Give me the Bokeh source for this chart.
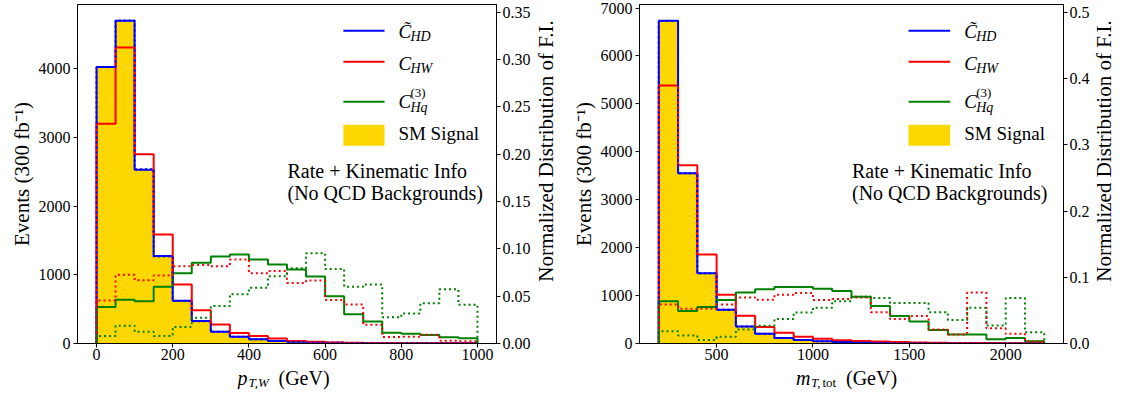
import math
from bokeh.plotting import figure
from bokeh.layouts import row, column
from bokeh.models import (Range1d, LinearAxis, FixedTicker, NumeralTickFormatter,
                          Label, BoxAnnotation)
from bokeh.embed import file_html
from bokeh.resources import INLINE

# ---------------- data ----------------
pt_edges = [0, 50, 100, 150, 200, 250, 300, 350, 400, 450, 500,
            550, 600, 650, 700, 750, 800, 850, 900, 950, 1000]
sm_pt = [4020, 4700, 2528, 1268, 620, 325, 170, 97, 62, 36, 25, 15, 10, 8, 6, 5, 4, 3, 2, 2]
chd_pt = [4025, 4700, 2530, 1272, 622, 328, 172, 98, 62, 37, 25, 16, 11, 8, 6, 5, 4, 3, 2, 2]
chw_pt = [3200, 4310, 2755, 1585, 858, 484, 275, 152, 108, 74, 38, 24, 15, 11, 8, 6, 5, 4, 3, 3]
chq_pt = [530, 638, 615, 826, 1022, 1177, 1266, 1294, 1224, 1149, 1079, 976, 689, 427, 319,
          155, 141, 122, 90, 76]
fi_chd_pt = [0.292, 0.341, 0.184, 0.092, 0.045, 0.0236, 0.0123, 0.007, 0.0045, 0.0026,
             0.0018, 0.0011, 0.0007, 0.0006, 0.0004, 0.0004, 0.0003, 0.0002, 0.0001, 0.0001]
fi_chw_pt = [0.0454, 0.0725, 0.0668, 0.0719, 0.0817, 0.083, 0.0817, 0.0886, 0.0743, 0.0766,
             0.064, 0.0664, 0.046, 0.0412, 0.0198, 0.0068, 0.007, 0.0092, 0.0028, 0.0025]
fi_chq_pt = [0.0079, 0.0188, 0.0123, 0.0079, 0.0174, 0.0273, 0.0395, 0.0521, 0.0589, 0.0709,
             0.0794, 0.0954, 0.0787, 0.06, 0.0623, 0.0276, 0.0317, 0.0426, 0.0572, 0.0409]

mt_edges = [200, 300, 400, 500, 600, 700, 800, 900, 1000, 1100, 1200,
            1300, 1400, 1500, 1600, 1700, 1800, 1900, 2000, 2100, 2200]
sm_mt = [6730, 3550, 1465, 705, 355, 200, 114, 74, 47, 30, 20, 15, 10, 8, 6, 5, 4, 3, 2, 2]
chd_mt = [6735, 3552, 1467, 706, 357, 202, 115, 75, 48, 30, 20, 15, 10, 8, 6, 5, 4, 3, 2, 2]
chw_mt = [5386, 3720, 1856, 1017, 579, 343, 222, 140, 101, 68, 54, 40, 30, 22, 16, 12, 10, 8, 6, 5]
chq_mt = [882, 680, 760, 908, 1063, 1130, 1178, 1178, 1144, 1097, 976, 781, 573, 458, 282,
          190, 190, 89, 115, 48]
fi_chd_mt = [0.487, 0.257, 0.106, 0.051, 0.0258, 0.0146, 0.0083, 0.0054, 0.0035, 0.0022,
             0.0014, 0.0011, 0.0007, 0.0006, 0.0004, 0.0004, 0.0003, 0.0002, 0.0001, 0.0001]
fi_chw_mt = [0.059, 0.0525, 0.0525, 0.059, 0.0696, 0.0662, 0.0735, 0.0764, 0.0657, 0.0671,
             0.0696, 0.0472, 0.037, 0.0414, 0.021, 0.0137, 0.0769, 0.0229, 0.0146, 0.003]
fi_chq_mt = [0.0185, 0.0122, 0.0054, 0.0102, 0.021, 0.0268, 0.037, 0.0467, 0.054, 0.0638,
             0.0706, 0.0686, 0.0613, 0.0613, 0.0472, 0.0356, 0.054, 0.0273, 0.0686, 0.0171]

pt_xticks = [0, 200, 400, 600, 800, 1000]
pt_yticks = [0, 1000, 2000, 3000, 4000]
pt_fiticks = [0.0, 0.05, 0.10, 0.15, 0.20, 0.25, 0.30, 0.35]
mt_xticks = [500, 1000, 1500, 2000]
mt_yticks = [0, 1000, 2000, 3000, 4000, 5000, 6000, 7000]
mt_fiticks = [0.0, 0.1, 0.2, 0.3, 0.4, 0.5]

BLUE, RED, GREEN, GOLD = "#0000FF", "#FF0000", "#008000", "#FFD700"
FONT = "Liberation Serif"
MBT, FH, MBB = 4, 339, 23
H_MAIN = MBT + FH + MBB
H_STRIP = 23


def step_path(edges, vals):
    xs = [edges[0]] + list(edges) + [edges[-1]]
    ys = [0] + list(vals) + [vals[-1], 0]
    return xs, ys


def txt(p, x, y, text, size, style="normal", align="left", angle=0.0):
    p.add_layout(Label(x=x, y=y, x_units="screen", y_units="screen", text=text,
                       text_font=FONT, text_font_size=f"{size}px", text_font_style=style,
                       text_color="black", text_align=align, text_baseline="middle",
                       angle=angle))


def blank(width, height, mbl=0, mbr=0):
    s = figure(width=width, height=height, output_backend="svg",
               toolbar_location=None, x_axis_type=None, y_axis_type=None,
               min_border_left=mbl, min_border_right=mbr, min_border_top=0,
               min_border_bottom=0, x_range=Range1d(0, 1), y_range=Range1d(0, 1))
    s.outline_line_color = None
    s.xgrid.visible = False
    s.ygrid.visible = False
    s.background_fill_color = "white"
    s.border_fill_color = "white"
    return s


def panel(edges, sm, chd, chw, chq, fchd, fchw, fchq, xr, yr, fir, xt, yt, ft, ffmt,
          mbl, fw, mbr):
    p = figure(width=mbl + fw + mbr, height=H_MAIN, x_range=Range1d(*xr),
               y_range=Range1d(*yr), output_backend="svg", toolbar_location=None,
               min_border_left=mbl, min_border_right=mbr,
               min_border_top=MBT, min_border_bottom=MBB)
    p.extra_y_ranges = {"fi": Range1d(*fir)}
    p.xgrid.visible = False
    p.ygrid.visible = False
    p.outline_line_color = "black"
    p.outline_line_alpha = 1.0
    p.outline_line_width = 1
    p.background_fill_color = "white"
    p.border_fill_color = "white"

    fi_axis = LinearAxis(y_range_name="fi")
    p.add_layout(fi_axis, "right")

    for ax in [p.xaxis[0], p.yaxis[0], fi_axis]:
        ax.axis_line_color = "black"
        ax.major_tick_line_color = "black"
        ax.major_tick_out = 4
        ax.major_tick_in = 0
        ax.minor_tick_line_color = None
        ax.major_label_text_font = FONT
        ax.major_label_text_font_size = "16px"
        ax.major_label_text_color = "black"
        ax.axis_label_text_font = FONT
        ax.axis_label_text_font_size = "21px"
        ax.axis_label_text_font_style = "normal"
        ax.axis_label_text_color = "black"
        ax.major_label_standoff = 3
        ax.axis_label_standoff = 2

    p.xaxis[0].ticker = FixedTicker(ticks=xt)
    p.xaxis[0].major_label_standoff = 1
    p.yaxis[0].ticker = FixedTicker(ticks=yt)
    p.yaxis[0].axis_label = "Events (300 fb⁻¹)"
    fi_axis.ticker = FixedTicker(ticks=ft)
    fi_axis.formatter = NumeralTickFormatter(format=ffmt)
    fi_axis.major_label_standoff = 2

    # SM signal fill
    p.varea_step(x=edges, y1=[0] * len(edges), y2=list(sm) + [sm[-1]], step_mode="after",
                 fill_color=GOLD, fill_alpha=1.0)
    # event histograms (solid)
    for vals, col in [(chd, BLUE), (chw, RED), (chq, GREEN)]:
        xs, ys = step_path(edges, vals)
        p.step(xs, ys, mode="after", line_color=col, line_width=2)
    # normalized F.I. (dotted, twin axis)
    for vals, col in [(fchd, BLUE), (fchw, RED), (fchq, GREEN)]:
        xs, ys = step_path(edges, vals)
        p.step(xs, ys, mode="after", line_color=col, line_width=2, line_dash="2 3",
               y_range_name="fi")

    # legend (custom, for math-style labels); offsets measured from the frame top
    lx0, lx1, tx = 0.633 * fw, 0.731 * fw, 0.764 * fw
    for off, col in [(26.3, BLUE), (57.3, RED), (97.3, GREEN)]:
        p.add_layout(BoxAnnotation(left=lx0, right=lx1, bottom=FH - off - 1, top=FH - off + 1,
                                   left_units="screen", right_units="screen",
                                   bottom_units="screen", top_units="screen",
                                   fill_color=col, fill_alpha=1.0, line_color=None))
    p.add_layout(BoxAnnotation(left=lx0, right=lx1, bottom=FH - 141.3, top=FH - 120.3,
                               left_units="screen", right_units="screen",
                               bottom_units="screen", top_units="screen",
                               fill_color=GOLD, fill_alpha=1.0, line_color=None))
    txt(p, tx, FH - 27.2, "C\u0303", 19, "italic")
    txt(p, tx + 12, FH - 32.2, "HD", 14, "italic")
    txt(p, tx, FH - 58.8, "C", 19, "italic")
    txt(p, tx + 12, FH - 63.8, "HW", 14, "italic")
    txt(p, tx, FH - 97.2, "C", 19, "italic")
    txt(p, tx + 12, FH - 103.2, "Hq", 14, "italic")
    txt(p, tx + 12, FH - 87.7, "(3)", 13)
    txt(p, tx, FH - 129.0, "SM Signal", 19)

    txt(p, 0.5 * fw, 0.510 * FH, "Rate + Kinematic Info", 20)
    txt(p, 0.5 * fw, 0.443 * FH, "(No QCD Backgrounds)", 20)
    return p


def ylabel_strip(width, xc):
    s = blank(width, H_MAIN)
    txt(s, xc, H_MAIN - (MBT + FH / 2), "Normalized Distribution of F.I.", 21,
        align="center", angle=math.pi / 2)
    return s


def xlabel_strip(mbl, fw, mbr, parts):
    s = blank(mbl + fw + mbr, H_STRIP, mbl, mbr)
    cx = fw / 2
    for dx, y, t, size, style in parts:
        txt(s, cx + dx, y, t, size, style)
    return s


L_MBL, L_FW, L_MBR, L_YL = 77, 420, 36, 34
R_MBL, R_FW, R_MBR, R_YL = 72, 425, 28, 22

left = panel(pt_edges, sm_pt, chd_pt, chw_pt, chq_pt, fi_chd_pt, fi_chw_pt, fi_chq_pt,
             (-50, 1050), (0, 4935), (0, 0.358), pt_xticks, pt_yticks, pt_fiticks, "0.00",
             L_MBL, L_FW, L_MBR)
right = panel(mt_edges, sm_mt, chd_mt, chw_mt, chq_mt, fi_chd_mt, fi_chw_mt, fi_chq_mt,
              (100, 2300), (0, 7074), (0, 0.512), mt_xticks, mt_yticks, mt_fiticks, "0.0",
              R_MBL, R_FW, R_MBR)
left_yl = ylabel_strip(L_YL, 12)
right_yl = ylabel_strip(R_YL, 11)

left_lab = xlabel_strip(L_MBL, L_FW, L_MBR + L_YL,
                        [(-50, 11.5, "p", 20, "italic"), (-39, 7.4, "T,W", 13, "italic"),
                         (-9, 11.5, "(GeV)", 20, "normal")])
right_lab = xlabel_strip(R_MBL, R_FW, R_MBR + R_YL,
                         [(-56, 11.5, "m", 20, "italic"), (-41, 7.4, "T,", 13, "italic"),
                          (-29.5, 7.4, "tot", 13, "normal"), (-6, 11.5, "(GeV)", 20, "normal")])

layout = column(row(left, left_yl, right, right_yl), row(left_lab, right_lab))
open("out.html", "w").write(file_html(layout, INLINE))
